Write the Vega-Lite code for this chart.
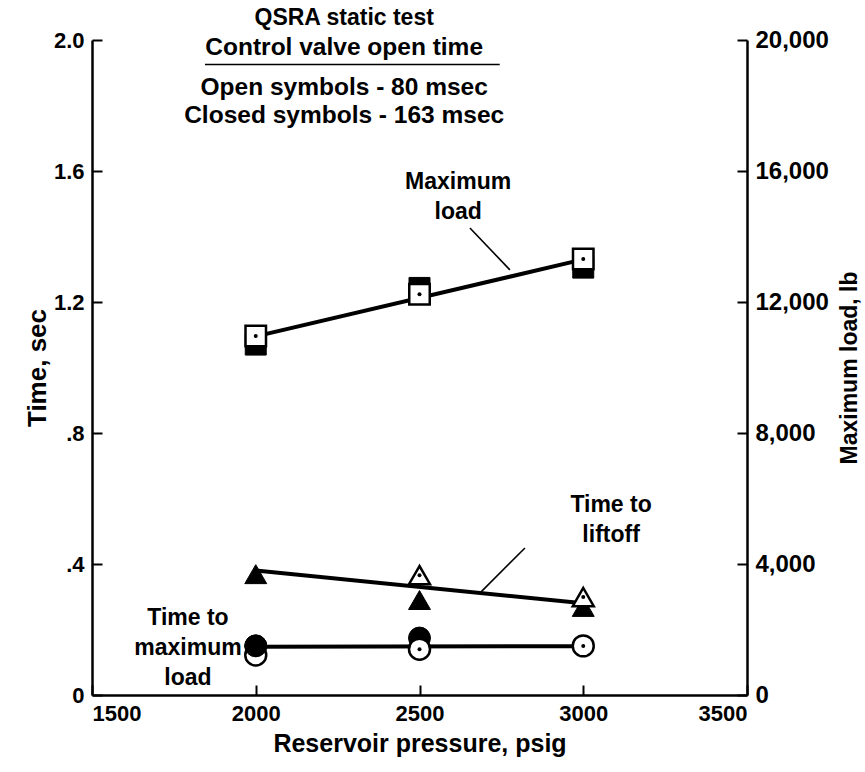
{
  "$schema": "https://vega.github.io/schema/vega-lite/v6.json",
  "width": 655,
  "height": 655,
  "autosize": {"type": "none"},
  "padding": {"left": 92, "top": 40, "right": 118, "bottom": 77},
  "background": "white",
  "config": {
    "view": {"stroke": null},
    "font": "Liberation Sans",
    "axis": {
      "domainColor": "black", "domainWidth": 2.5, "tickColor": "black", "tickWidth": 2, "tickSize": -10,
      "labelFont": "Liberation Sans", "labelFontSize": 22, "labelFontWeight": "bold", "labelColor": "black",
      "titleFont": "Liberation Sans", "titleFontSize": 23, "titleFontWeight": "bold", "titleColor": "black",
      "grid": false, "labelPadding": 18
    },
    "text": {"font": "Liberation Sans", "fontWeight": "bold", "fontSize": 23, "color": "black"}
  },
  "datasets": {
    "timeSymbols": [
      {"series": "liftoff", "symbol": "closed", "pressure": 2000, "time": 0.369},
      {"series": "liftoff", "symbol": "closed", "pressure": 2500, "time": 0.290},
      {"series": "liftoff", "symbol": "closed", "pressure": 3000, "time": 0.269},
      {"series": "liftoff", "symbol": "open", "pressure": 2500, "time": 0.366},
      {"series": "liftoff", "symbol": "open", "pressure": 3000, "time": 0.299},
      {"series": "maxload", "symbol": "closed", "pressure": 2000, "time": 0.150},
      {"series": "maxload", "symbol": "closed", "pressure": 2500, "time": 0.174},
      {"series": "maxload", "symbol": "open", "pressure": 2000, "time": 0.122},
      {"series": "maxload", "symbol": "open", "pressure": 2500, "time": 0.140},
      {"series": "maxload", "symbol": "open", "pressure": 3000, "time": 0.150}
    ],
    "timeFit": [
      {"series": "liftoff", "pressure": 2000, "time": 0.38},
      {"series": "liftoff", "pressure": 3000, "time": 0.28},
      {"series": "maxload", "pressure": 2000, "time": 0.147},
      {"series": "maxload", "pressure": 3000, "time": 0.149}
    ],
    "loadSymbols": [
      {"symbol": "closed", "pressure": 2000, "load": 10700},
      {"symbol": "closed", "pressure": 2500, "load": 12430},
      {"symbol": "closed", "pressure": 3000, "load": 13050},
      {"symbol": "open", "pressure": 2000, "load": 10960},
      {"symbol": "open", "pressure": 2500, "load": 12240},
      {"symbol": "open", "pressure": 3000, "load": 13310}
    ],
    "loadFit": [
      {"pressure": 2000, "load": 10950},
      {"pressure": 3000, "load": 13300}
    ],
    "labels": [
      {"label": "Maximum\nload", "pressure": 2618, "time": 1.566},
      {"label": "Time to\nliftoff", "pressure": 3085, "time": 0.58},
      {"label": "Time to\nmaximum\nload", "pressure": 1793, "time": 0.235}
    ],
    "titleHead": [
      {"label": "QSRA static test", "pressure": 2270, "time": 2.067}
    ],
    "titleLines": [
      {"label": "Control valve open time", "pressure": 2270, "time": 1.975},
      {"label": "Open symbols - 80 msec", "pressure": 2270, "time": 1.853},
      {"label": "Closed symbols - 163 msec", "pressure": 2270, "time": 1.768}
    ],
    "leaders": [
      {"pressure": 2654, "time": 1.426, "pressure2": 2776, "time2": 1.298},
      {"pressure": 2688, "time": 0.315, "pressure2": 2822, "time2": 0.449},
      {"pressure": 1845, "time": 1.925, "pressure2": 2745, "time2": 1.925}
    ]
  },
  "encoding": {
    "x": {
      "field": "pressure", "type": "quantitative",
      "scale": {"domain": [1500, 3500], "nice": false, "zero": false},
      "axis": {"values": [1500, 2000, 2500, 3000, 3500], "format": "d", "title": "Reservoir pressure, psig", "titleFontSize": 25, "titlePadding": 7}
    }
  },
  "resolve": {"scale": {"y": "independent"}},
  "layer": [
    {
      "encoding": {
        "y": {
          "field": "time", "type": "quantitative",
          "scale": {"domain": [0, 2], "nice": false, "zero": true},
          "axis": {
            "values": [0, 0.4, 0.8, 1.2, 1.6, 2.0],
            "labelExpr": "datum.value == 0 ? '0' : replace(format(datum.value, '.1f'), /^0\\./, '.')",
            "title": "Time, sec", "titleFontSize": 26, "titlePadding": 3
          }
        }
      },
      "layer": [
        {
          "data": {"name": "timeFit"},
          "mark": {"type": "line", "color": "black", "strokeWidth": 4},
          "encoding": {"detail": {"field": "series"}}
        },
        {
          "data": {"name": "timeSymbols"},
          "transform": [{"filter": "datum.symbol == 'closed'"}],
          "mark": {"type": "point", "filled": true, "fill": "black", "stroke": "black", "strokeWidth": 1, "opacity": 1, "size": 480},
          "encoding": {"shape": {"field": "series", "scale": {"domain": ["liftoff", "maxload"], "range": ["triangle-up", "circle"]}, "legend": null}}
        },
        {
          "data": {"name": "timeSymbols"},
          "transform": [{"filter": "datum.symbol == 'open'"}],
          "mark": {"type": "point", "filled": true, "fill": "white", "stroke": "black", "strokeWidth": 2.5, "opacity": 1, "size": 440},
          "encoding": {"shape": {"field": "series", "scale": {"domain": ["liftoff", "maxload"], "range": ["triangle-up", "circle"]}, "legend": null}}
        },
        {
          "data": {"name": "timeSymbols"},
          "transform": [{"filter": "datum.symbol == 'open'"}],
          "mark": {"type": "point", "shape": "circle", "filled": true, "fill": "black", "opacity": 1, "size": 16}
        },
        {
          "data": {"name": "timeSymbols"},
          "transform": [{"filter": "datum.symbol == 'closed' && datum.series == 'maxload' && datum.pressure == 2000"}],
          "mark": {"type": "point", "shape": "circle", "filled": true, "fill": "black", "stroke": "black", "strokeWidth": 1, "opacity": 1, "size": 480}
        },
        {
          "data": {"name": "leaders"},
          "mark": {"type": "rule", "color": "black", "strokeWidth": 1.6},
          "encoding": {"x2": {"field": "pressure2"}, "y2": {"field": "time2"}}
        },
        {
          "data": {"name": "labels"},
          "mark": {"type": "text", "lineBreak": "\n", "lineHeight": 30, "align": "center", "baseline": "middle"},
          "encoding": {"text": {"field": "label"}}
        },
        {
          "data": {"name": "titleHead"},
          "mark": {"type": "text", "align": "center", "baseline": "middle", "fontSize": 23},
          "encoding": {"text": {"field": "label"}}
        },
        {
          "data": {"name": "titleLines"},
          "mark": {"type": "text", "align": "center", "baseline": "middle", "fontSize": 24.5},
          "encoding": {"text": {"field": "label"}}
        }
      ]
    },
    {
      "encoding": {
        "y": {
          "field": "load", "type": "quantitative",
          "scale": {"domain": [0, 20000], "nice": false, "zero": true},
          "axis": {
            "orient": "right",
            "values": [0, 4000, 8000, 12000, 16000, 20000],
            "format": ",d",
            "labelFontSize": 24,
            "title": "Maximum load, lb", "titleAngle": 270, "titlePadding": 33
          }
        }
      },
      "layer": [
        {
          "data": {"name": "loadFit"},
          "mark": {"type": "line", "color": "black", "strokeWidth": 4}
        },
        {
          "data": {"name": "loadSymbols"},
          "transform": [{"filter": "datum.symbol == 'closed'"}],
          "mark": {"type": "point", "shape": "square", "filled": true, "fill": "black", "stroke": "black", "strokeWidth": 1, "opacity": 1, "size": 440}
        },
        {
          "data": {"name": "loadSymbols"},
          "transform": [{"filter": "datum.symbol == 'open'"}],
          "mark": {"type": "point", "shape": "square", "filled": true, "fill": "white", "stroke": "black", "strokeWidth": 2.5, "opacity": 1, "size": 420}
        },
        {
          "data": {"name": "loadSymbols"},
          "transform": [{"filter": "datum.symbol == 'open'"}],
          "mark": {"type": "point", "shape": "circle", "filled": true, "fill": "black", "opacity": 1, "size": 16}
        }
      ]
    }
  ]
}
